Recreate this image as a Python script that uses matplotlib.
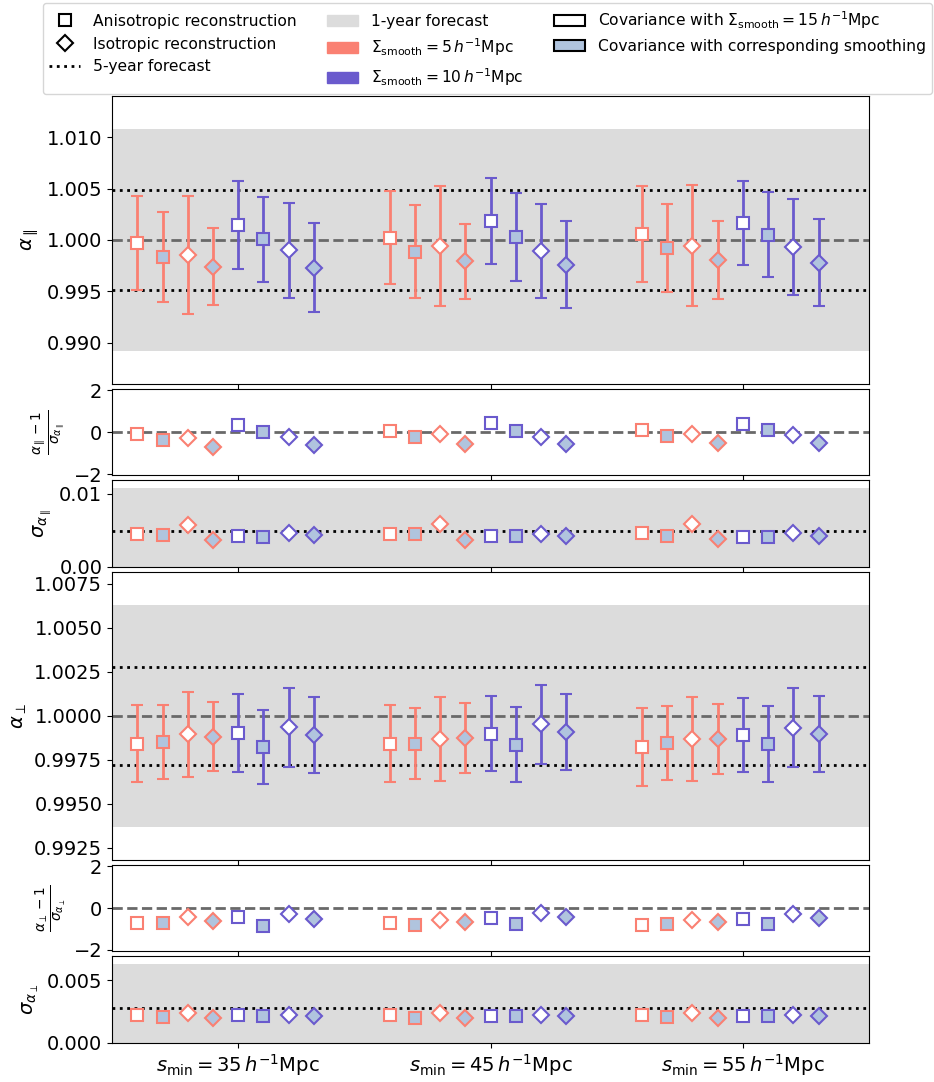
import numpy as np
import matplotlib.pyplot as plt
from matplotlib.lines import Line2D
from matplotlib.patches import Patch

# s_min values (x groups)
s_min = [35, 45, 55]

# 8 fits per group: (smoothing, reconstruction, covariance)
smoothing = [5, 5, 5, 5, 10, 10, 10, 10]
recon = ["aniso", "aniso", "iso", "iso", "aniso", "aniso", "iso", "iso"]
cov = ["15", "corr", "15", "corr", "15", "corr", "15", "corr"]

alpha_par = [
    [0.99968, 0.99835, 0.99851, 0.99737, 1.00146, 1.00006, 0.99899, 0.99728],
    [1.00023, 0.99886, 0.99942, 0.99793, 1.00185, 1.00026, 0.99896, 0.99757],
    [1.00055, 0.99922, 0.99945, 0.99805, 1.00165, 1.00052, 0.99929, 0.99779],
]
sigma_par = [
    [0.00457, 0.00438, 0.00572, 0.00374, 0.00429, 0.00415, 0.00461, 0.00434],
    [0.00457, 0.00450, 0.00586, 0.00365, 0.00420, 0.00429, 0.00457, 0.00424],
    [0.00466, 0.00429, 0.00590, 0.00379, 0.00410, 0.00410, 0.00466, 0.00424],
]
alpha_perp = [
    [0.99841, 0.99852, 0.99894, 0.99882, 0.99901, 0.99822, 0.99936, 0.99892],
    [0.99841, 0.99842, 0.99869, 0.99873, 0.99899, 0.99837, 0.99951, 0.99909],
    [0.99825, 0.99845, 0.99867, 0.99869, 0.99890, 0.99839, 0.99932, 0.99899],
]
sigma_perp = [
    [0.00219, 0.00208, 0.00240, 0.00197, 0.00222, 0.00211, 0.00224, 0.00214],
    [0.00219, 0.00200, 0.00240, 0.00197, 0.00214, 0.00211, 0.00222, 0.00214],
    [0.00222, 0.00208, 0.00238, 0.00200, 0.00211, 0.00214, 0.00224, 0.00216],
]

# forecasts
one_year = {"par": 0.0108, "perp": 0.0063}
five_year = {"par": 0.00486, "perp": 0.0028}

offsets = np.arange(-0.4, 0.35, 0.1)
colors = {5: "salmon", 10: "slateblue"}
markers = {"aniso": "s", "iso": "D"}
fills = {"15": "white", "corr": "lightsteelblue"}

plt.rcParams["font.size"] = 14

fig, axes = plt.subplots(6, 1, figsize=(9.34, 10.82), sharex=True,
                         gridspec_kw={"height_ratios": [10, 3, 3, 10, 3, 3], "hspace": 0.031})
fig.subplots_adjust(left=0.12, right=0.9304, top=0.9116, bottom=0.0363)

ms = {"s": 8, "D": 8.5}

for k, (alpha, sigma, key) in enumerate([(alpha_par, sigma_par, "par"), (alpha_perp, sigma_perp, "perp")]):
    ax_a, ax_r, ax_s = axes[3 * k], axes[3 * k + 1], axes[3 * k + 2]
    b1, b5 = one_year[key], five_year[key]

    ax_a.axhspan(1 - b1, 1 + b1, color="gainsboro", lw=0, zorder=0)
    ax_a.axhline(1 + b5, color="k", ls=":", lw=2, zorder=1)
    ax_a.axhline(1 - b5, color="k", ls=":", lw=2, zorder=1)
    ax_a.axhline(1, color="dimgray", ls="--", lw=2, zorder=1)
    ax_a.set_ylim(1 - 1.3 * b1, 1 + 1.3 * b1)

    ax_r.axhline(0, color="dimgray", ls="--", lw=2, zorder=1)
    ax_r.set_ylim(-2.07, 2.07)

    ax_s.axhspan(0, b1, color="gainsboro", lw=0, zorder=0)
    ax_s.axhline(b5, color="k", ls=":", lw=2, zorder=1)
    ax_s.set_ylim(0, 1.1 * b1)

    for g in range(len(s_min)):
        for i in range(8):
            x = g + offsets[i]
            a = alpha[g][i]
            s = sigma[g][i]
            c = colors[smoothing[i]]
            m = markers[recon[i]]
            fc = fills[cov[i]]
            ax_a.errorbar(x, a, yerr=s, fmt=m, ms=ms[m], mfc=fc, mec=c, mew=1.5,
                          ecolor=c, elinewidth=2, capsize=4, capthick=2, zorder=3)
            ax_r.plot(x, (a - 1) / s, m, ms=ms[m], mfc=fc, mec=c, mew=1.5, zorder=3)
            ax_s.plot(x, s, m, ms=ms[m], mfc=fc, mec=c, mew=1.5, zorder=3)

axes[0].set_ylabel(r"$\alpha_\parallel$")
axes[1].set_ylabel(r"$\frac{\alpha_\parallel - 1}{\sigma_{\alpha_\parallel}}$")
axes[2].set_ylabel(r"$\sigma_{\alpha_\parallel}$")
axes[3].set_ylabel(r"$\alpha_\perp$")
axes[4].set_ylabel(r"$\frac{\alpha_\perp - 1}{\sigma_{\alpha_\perp}}$")
axes[5].set_ylabel(r"$\sigma_{\alpha_\perp}$")

axes[0].set_yticks([0.990, 0.995, 1.000, 1.005, 1.010])
axes[3].set_yticks([0.9925, 0.9950, 0.9975, 1.0000, 1.0025, 1.0050, 1.0075])
axes[1].set_yticks([-2, 0, 2])
axes[4].set_yticks([-2, 0, 2])
axes[2].set_yticks([0.0, 0.01])
axes[2].set_yticklabels(["0.00", "0.01"])
axes[5].set_yticks([0.0, 0.005])
axes[5].set_yticklabels(["0.000", "0.005"])

axes[-1].set_xlim(-0.5, 2.5)
axes[-1].set_xticks(range(len(s_min)))
axes[-1].set_xticklabels([r"$s_\mathrm{min} = %d\,h^{-1}$Mpc" % s for s in s_min])

handles = [
    Line2D([], [], marker="s", ls="none", mfc="white", mec="k", mew=1.5, ms=8),
    Line2D([], [], marker="D", ls="none", mfc="white", mec="k", mew=1.5, ms=8),
    Line2D([], [], color="k", ls=":", lw=2),
    Patch(color="gainsboro"),
    Patch(color="salmon"),
    Patch(color="slateblue"),
    Patch(facecolor="white", edgecolor="k", lw=1.5),
    Patch(facecolor="lightsteelblue", edgecolor="k", lw=1.5),
]
labels = [
    "Anisotropic reconstruction",
    "Isotropic reconstruction",
    "5-year forecast",
    "1-year forecast",
    r"$\Sigma_\mathrm{smooth} = 5\,h^{-1}$Mpc",
    r"$\Sigma_\mathrm{smooth} = 10\,h^{-1}$Mpc",
    r"Covariance with $\Sigma_\mathrm{smooth} = 15\,h^{-1}$Mpc",
    "Covariance with corresponding smoothing",
]
fig.legend(handles, labels, ncol=3, loc="upper center", bbox_to_anchor=(0.522, 1.0045),
           fontsize=11.15)

plt.savefig("out.png", dpi=100)
